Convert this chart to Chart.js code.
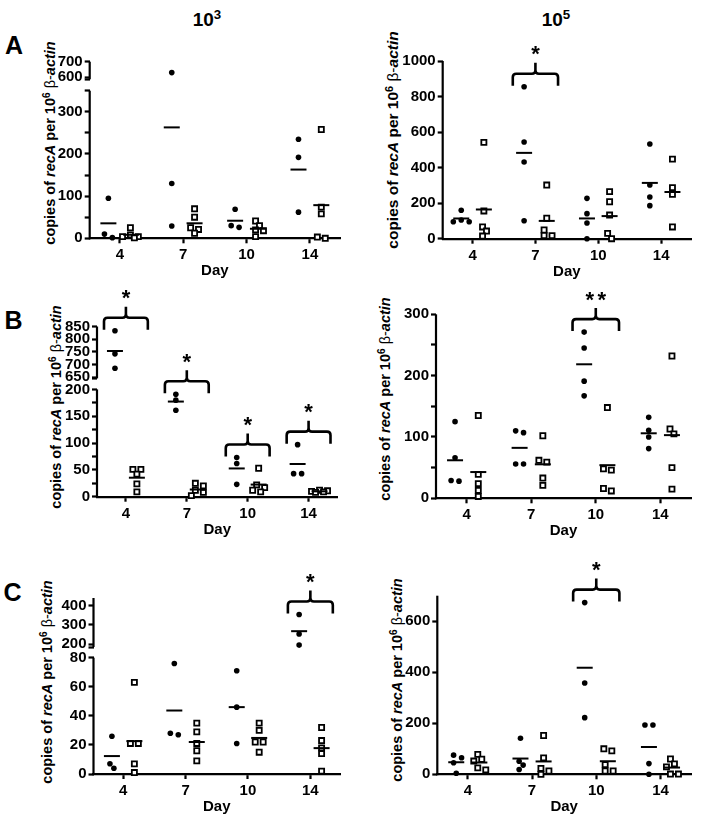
<!DOCTYPE html>
<html>
<head>
<meta charset="utf-8">
<script src="https://cdn.jsdelivr.net/npm/chart.js@4/dist/chart.umd.min.js"></script>
<style>
html,body{margin:0;padding:0;background:#fff;}
body{width:701px;height:823px;position:relative;overflow:hidden;font-family:"Liberation Sans",Arial,sans-serif;color:#000;}
canvas{position:absolute;}
.t{position:absolute;transform:translate(-50%,-50%);white-space:nowrap;font-weight:bold;line-height:1;}
.yt{position:absolute;transform:translate(-50%,-50%) rotate(-90deg);white-space:nowrap;font-weight:bold;font-size:14.5px;line-height:1;}
sup{font-size:70%;vertical-align:0.5em;line-height:0;}
.n{font-weight:normal;}
</style>
</head>
<body>
<div class="t" style="left:207px;top:19px;font-size:19px">10<sup>3</sup></div>
<div class="t" style="left:556px;top:19px;font-size:19px">10<sup>5</sup></div>
<div class="t" style="left:14px;top:45px;font-size:25px">A</div>
<div class="t" style="left:13.5px;top:320px;font-size:25px">B</div>
<div class="t" style="left:12.5px;top:592px;font-size:25px">C</div>
<div class="yt" style="left:50px;top:143px">copies of <i>recA</i> per 10<sup>6</sup> <span class="n">β-</span><i>actin</i></div>
<div class="yt" style="left:393px;top:140px;font-size:15.5px">copies of <i>recA</i> per 10<sup>6</sup> <span class="n">β-</span><i>actin</i></div>
<div class="yt" style="left:56px;top:407px">copies of <i>recA</i> per 10<sup>6</sup> <span class="n">β-</span><i>actin</i></div>
<div class="yt" style="left:385px;top:399px">copies of <i>recA</i> per 10<sup>6</sup> <span class="n">β-</span><i>actin</i></div>
<div class="yt" style="left:47px;top:682px">copies of <i>recA</i> per 10<sup>6</sup> <span class="n">β-</span><i>actin</i></div>
<div class="yt" style="left:397px;top:680px">copies of <i>recA</i> per 10<sup>6</sup> <span class="n">β-</span><i>actin</i></div>
<script>
// ---------- data ----------
const days = ['4', '7', '10', '14'];

// Panel A (left: 10^3, right: 10^5) — filled circles / open squares, per day
const a3Filled = [[95, 10, 1.5], [630, 130, 29], [69, 30, 26], [235, 192, 62]];
const a3Open   = [[25, 8, 4, 4, 1], [70, 50, 25, 21, 12], [41, 30, 20, 18, 4], [258, 74, 58, 3, 0]];
const a3Sig    = ['', '', '', ''];
const a5Filled = [[160, 105, 95, 95], [855, 544, 432, 101], [227, 141, 88, 0], [533, 302, 235, 186]];
const a5Open   = [[542, 156, 66, 43, 15], [302, 115, 49, 18, 17], [265, 208, 133, 30, 0], [448, 287, 250, 66]];
const a5Sig    = ['', '*', '', ''];
// Panel B
const b3Filled = [[833, 742, 685], [191, 180, 161], [73, 62, 23], [97, 43, 43]];
const b3Open   = [[51, 51, 42, 24, 9], [25, 20, 12, 8, 2], [53, 22, 17, 12, 9], [12, 11, 10, 9, 8]];
const b3Sig    = ['*', '*', '*', '*'];
const b5Filled = [[125, 66, 29, 28], [110, 107, 56, 56], [271, 245, 191, 167], [132, 111, 100, 81]];
const b5Open   = [[135, 39, 24, 13, 3], [102, 62, 59, 33, 21], [148, 48, 46, 16, 12], [232, 113, 105, 50, 15]];
const b5Sig    = ['', '', '**', ''];
// Panel C
const c3Filled = [[26, 7, 4], [76, 28, 27], [71, 46, 21], [354, 253, 195]];
const c3Open   = [[63, 21, 21, 7, 1], [35, 29, 21, 16, 9], [35, 30, 22, 22, 15], [32, 23, 18, 14, 2]];
const c3Sig    = ['', '', '', '*'];
const c5Filled = [[75, 65, 45, 4], [141, 51, 36, 19], [673, 358, 222], [193, 193, 42, 0]];
const c5Open   = [[78, 59, 52, 25, 17], [152, 64, 23, 13, 0], [100, 92, 38, 13, 13], [60, 41, 29, 1, 1]];
const c5Sig    = ['', '', '*', ''];

// y-axis ranges and tick values (broken axes have two segments)
const a3Axis = [{min: 0, max: 350, major: 100, minor: 50}, {min: 587, max: 700, labels: [600, 700], cap: true}];
const a5Axis = [{min: 0, max: 1000, major: 200}];
const b3Axis = [{min: 0, max: 200, major: 50, minor: 25}, {min: 645, max: 850, labels: [650, 700, 750, 800, 850], cap: true}];
const b5Axis = [{min: 0, max: 300, major: 100, minor: 50}];
const c3Axis = [{min: 0, max: 80, major: 20}, {min: 185, max: 440, labels: [200, 300, 400], cap: true}];
const c5Axis = [{min: 0, max: 700, major: 200}];

// ---------- layout (page pixels) ----------
const LAYOUT = {
  a3: {box: [0, 25, 350, 260],   L: 89.7,  R: 343,   B: 238.3, h: [147.6, 17.6], gap: 11.4},
  a5: {box: [350, 25, 351, 260], L: 442.7, R: 693,   B: 238.7, h: [177.7]},
  b3: {box: [0, 285, 350, 260],  L: 97,    R: 337.5, B: 496.7, h: [107.3, 51.9], gap: 11},
  b5: {box: [350, 285, 351, 260],L: 436,   R: 695,   B: 498.3, h: [184]},
  c3: {box: [0, 545, 350, 278],  L: 93.5,  R: 342,   B: 774,   h: [116.3, 49], gap: 10.7},
  c5: {box: [350, 545, 351, 278],L: 437.3, R: 691.5, B: 774.3, h: [178.6]}
};
const YW = 45, XH = 44, XMIN = -0.475, XMAX = 3.475, GOFF = 0.18;

Chart.defaults.font.family = '"Liberation Sans", Arial, sans-serif';
Chart.defaults.color = '#000';

function spreadPx(hs) {
  const n = hs.length, off = new Array(n).fill(0);
  const order = hs.map((h, i) => i).sort((a, b) => hs[b] - hs[a]);
  const cands = [0, 4, -4, 8, -8];
  const placed = [];
  order.forEach(i => {
    let best = 0, bestD = -1;
    for (const o of cands) {
      let d = Infinity;
      placed.forEach(j => { d = Math.min(d, Math.hypot(off[j] - o, hs[j] - hs[i])); });
      if (d >= 5.5) { best = o; break; }
      if (d > bestD) { bestD = d; best = o; }
    }
    off[i] = best; placed.push(i);
  });
  const par = off.map((_, i) => i);
  const find = i => par[i] === i ? i : (par[i] = find(par[i]));
  for (let i = 0; i < n; i++) for (let j = i + 1; j < n; j++)
    if (Math.hypot(off[i] - off[j], hs[i] - hs[j]) < 9) par[find(i)] = find(j);
  const sums = {};
  for (let i = 0; i < n; i++) { const r = find(i); sums[r] = sums[r] || [0, 0]; sums[r][0] += off[i]; sums[r][1]++; }
  return off.map((o, i) => { const s = sums[find(i)]; return o - s[0] / s[1]; });
}

function makePanel(filled, open, sig, axisSegs, lay) {
  const [cx, cy, cw, ch] = lay.box;
  const canvas = document.createElement('canvas');
  canvas.width = cw; canvas.height = ch;
  canvas.style.left = cx + 'px'; canvas.style.top = cy + 'px';
  canvas.style.width = cw + 'px'; canvas.style.height = ch + 'px';
  document.body.appendChild(canvas);

  const gap = lay.gap || 0;
  let base = 0;
  const segs = axisSegs.map((s, i) => {
    const g = Object.assign({}, s, {h: lay.h[i], base: base});
    base += lay.h[i] + gap;
    return g;
  });
  const total = base - gap;
  const T = lay.B - total;
  const inSeg = (g, v) => g.base + (v - g.min) * g.h / (g.max - g.min);
  const toV = v => {
    let g = segs[0];
    segs.forEach(s => { if (v >= s.min) g = s; });
    return inSeg(g, v);
  };

  const yTicks = [];
  segs.forEach(g => {
    if (g.major) {
      const st = g.minor || g.major;
      for (let v = g.min; v <= g.max + 1e-9; v += st)
        yTicks.push({value: inSeg(g, v), label: (Math.abs(v % g.major) < 1e-9) ? String(v) : ''});
    } else {
      g.labels.forEach(v => yTicks.push({value: inSeg(g, v), label: String(v)}));
    }
    if (g.cap) yTicks.push({value: g.base, label: ''});
  });
  yTicks.sort((a, b) => a.value - b.value);

  const pxc = (lay.R - lay.L) / (XMAX - XMIN);
  const ptsF = [], ptsO = [], meanF = [], meanO = [];
  const build = (groups, sign, pts, means) => {
    groups.forEach((vals, d) => {
      const hs = vals.map(toV);
      const offs = spreadPx(hs);
      vals.forEach((v, i) => pts.push({x: d + sign * GOFF + offs[i] / pxc, y: hs[i]}));
      const m = vals.reduce((a, b) => a + b, 0) / vals.length;
      means.push({x: d + sign * GOFF, y: toV(m)});
    });
  };
  build(filled, -1, ptsF, meanF);
  build(open, 1, ptsO, meanO);

  const deco = {
    id: 'deco',
    afterDraw(chart) {
      const ctx = chart.ctx, ys = chart.scales.y, xs = chart.scales.x;
      const x0 = chart.chartArea.left;
      ctx.save();
      ctx.strokeStyle = '#000'; ctx.fillStyle = '#000';
      ctx.lineWidth = 2.2;
      segs.forEach((g, i) => {
        const yb = ys.getPixelForValue(g.base) + (i === 0 ? 1 : 0);
        const yt = ys.getPixelForValue(g.base + g.h);
        ctx.beginPath(); ctx.moveTo(x0, yb); ctx.lineTo(x0, yt); ctx.stroke();
      });
      // significance brackets
      sig.forEach((mark, d) => {
        if (!mark) return;
        const maxV = Math.max(...filled[d], ...open[d]);
        const top = ys.getPixelForValue(toV(maxV)) - 13;
        const xc = xs.getPixelForValue(d);
        const xl = xs.getPixelForValue(d - 0.36), xr = xs.getPixelForValue(d + 0.36);
        const r = 3.5;
        ctx.lineWidth = 2.6; ctx.lineJoin = 'round';
        ctx.beginPath();
        ctx.moveTo(xl, top + 12); ctx.lineTo(xl, top + r);
        ctx.quadraticCurveTo(xl, top, xl + r, top);
        ctx.lineTo(xc - r, top);
        ctx.quadraticCurveTo(xc, top, xc, top - r);
        ctx.lineTo(xc, top - 11);
        ctx.moveTo(xc, top - r);
        ctx.quadraticCurveTo(xc, top, xc + r, top);
        ctx.lineTo(xr - r, top);
        ctx.quadraticCurveTo(xr, top, xr, top + r);
        ctx.lineTo(xr, top + 12);
        ctx.stroke();
        ctx.font = 'bold 22px "Liberation Sans", Arial, sans-serif';
        ctx.textAlign = 'center'; ctx.textBaseline = 'alphabetic';
        const chars = mark.split('');
        chars.forEach((c, k) => {
          const dx = (k - (chars.length - 1) / 2) * 12;
          ctx.fillText(c, xc + dx, top - 25 + 12.5);
        });
      });
      ctx.restore();
    }
  };

  const tickFont = {size: 15, weight: 'bold'};
  new Chart(canvas, {
    type: 'scatter',
    data: {datasets: [
      {data: meanF, pointStyle: 'line', pointRadius: 8, borderColor: '#000', borderWidth: 2, clip: false},
      {data: meanO, pointStyle: 'line', pointRadius: 8, borderColor: '#000', borderWidth: 2, clip: false},
      {data: ptsF, pointStyle: 'circle', pointRadius: 2.8, backgroundColor: '#000', borderColor: '#000', borderWidth: 0, clip: false},
      {data: ptsO, pointStyle: 'rect', pointRadius: 3.6, backgroundColor: '#fff', borderColor: '#000', borderWidth: 1.8, clip: false}
    ]},
    options: {
      responsive: false, animation: false, events: [],
      layout: {padding: {left: lay.L - cx - YW, top: T - cy, right: cx + cw - lay.R, bottom: cy + ch - lay.B - XH}},
      plugins: {legend: {display: false}, tooltip: {enabled: false}},
      scales: {
        x: {
          type: 'linear', min: XMIN, max: XMAX,
          afterBuildTicks: s => { s.ticks = days.map((d, i) => ({value: i})); },
          afterFit: s => { s.height = XH; },
          ticks: {callback: (v, i) => days[i], font: tickFont, color: '#000', padding: 3, autoSkip: false, maxRotation: 0},
          grid: {drawOnChartArea: false, drawTicks: true, tickLength: 5, color: '#000', tickWidth: 2.2},
          border: {display: true, color: '#000', width: 2.2},
          title: {display: true, text: 'Day', font: {size: 15, weight: 'bold'}, color: '#000', padding: {top: 0, bottom: 2}}
        },
        y: {
          type: 'linear', min: 0, max: total,
          afterBuildTicks: s => { s.ticks = yTicks.map(t => ({value: t.value})); },
          afterFit: s => { s.width = YW; },
          ticks: {callback: (v, i) => yTicks[i].label, font: tickFont, color: '#000', padding: 2, autoSkip: false},
          grid: {drawOnChartArea: false, drawTicks: true, tickLength: 5, color: '#000', tickWidth: 2.2},
          border: {display: false}
        }
      }
    },
    plugins: [deco]
  });
}

makePanel(a3Filled, a3Open, a3Sig, a3Axis, LAYOUT.a3);
makePanel(a5Filled, a5Open, a5Sig, a5Axis, LAYOUT.a5);
makePanel(b3Filled, b3Open, b3Sig, b3Axis, LAYOUT.b3);
makePanel(b5Filled, b5Open, b5Sig, b5Axis, LAYOUT.b5);
makePanel(c3Filled, c3Open, c3Sig, c3Axis, LAYOUT.c3);
makePanel(c5Filled, c5Open, c5Sig, c5Axis, LAYOUT.c5);
</script>
</body>
</html>
